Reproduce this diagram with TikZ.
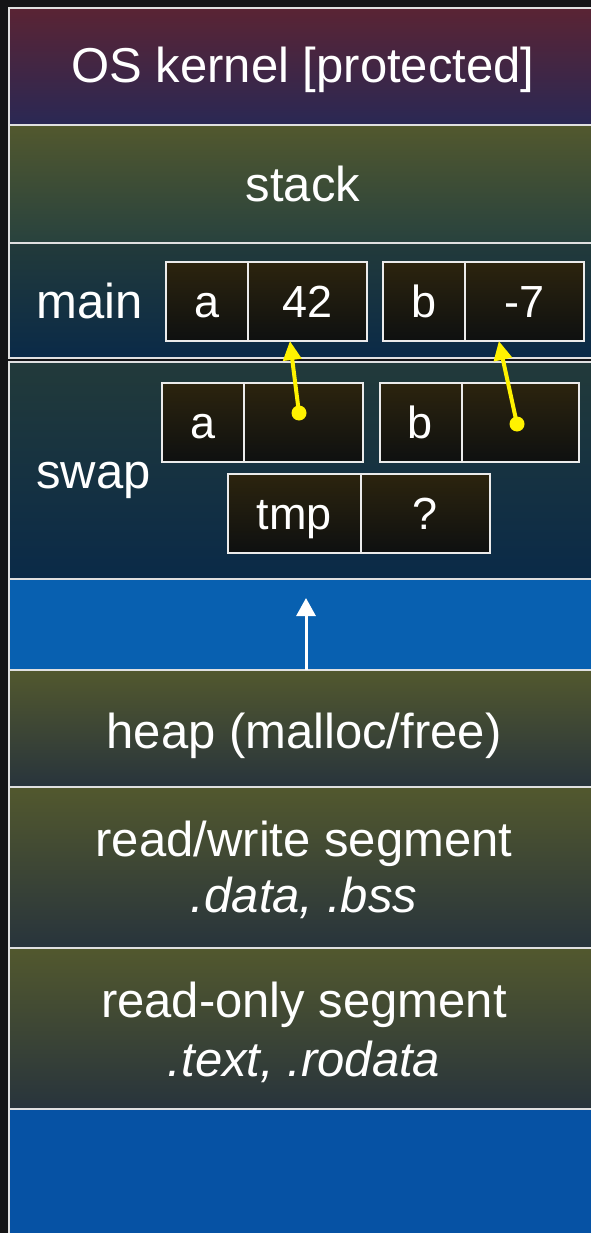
\documentclass[tikz,border=0pt]{standalone}
\usepackage{fontspec}
\setmainfont{Liberation Sans}
\usetikzlibrary{positioning,arrows.meta}

\definecolor{bgdark}{RGB}{20,20,22}
\definecolor{kerneltop}{RGB}{90,36,52}
\definecolor{kernelbot}{RGB}{42,40,84}
\definecolor{olivetop}{RGB}{82,88,46}
\definecolor{stackbot}{RGB}{40,66,62}
\definecolor{frametop}{RGB}{34,58,58}
\definecolor{framebot}{RGB}{10,42,72}
\definecolor{segbot}{RGB}{40,52,60}
\definecolor{freeblue}{RGB}{8,96,176}
\definecolor{lowblue}{RGB}{6,82,164}
\definecolor{celltop}{RGB}{44,36,14}
\definecolor{cellbot}{RGB}{14,16,16}

\tikzset{
  band/.style={draw=white!88!black, line width=2pt},
  bandtext/.style={text=white, inner sep=0pt, font=\fontsize{49pt}{57pt}\selectfont},
  cell/.style={draw=white!92!black, line width=2pt, top color=celltop, bottom color=cellbot,
    text=white, font=\fontsize{45pt}{52pt}\selectfont, inner sep=0pt, outer sep=0pt,
    minimum height=79pt, text height=32pt, text depth=0pt},
  namecell/.style={cell, minimum width=82pt},
  valcell/.style={cell, minimum width=119pt},
  ptr/.style={yellow, line width=4pt, -{Triangle[width=18pt,length=19pt]}},
  ptrdot/.style={circle, fill=yellow, minimum size=15pt, inner sep=0pt},
  growarrow/.style={white, line width=3pt, -{Triangle[width=19pt,length=18pt]}}
}

\begin{document}
\begin{tikzpicture}[x=1pt,y=-1pt]
  \useasboundingbox (0,0) rectangle (591,1233);
  \fill[bgdark] (0,0) rectangle (591,1233);

  % address space, top to bottom
  \draw[band, top color=kerneltop, bottom color=kernelbot] (9,8) rectangle (640,125);
  \draw[band, top color=olivetop, bottom color=stackbot] (9,125) rectangle (640,243);
  \draw[band, top color=frametop, bottom color=framebot] (9,243) rectangle (640,358);
  \draw[band, top color=frametop, bottom color=framebot] (9,362) rectangle (640,579);
  \draw[band, fill=freeblue] (9,579) rectangle (640,670);
  \draw[band, top color=olivetop, bottom color=segbot] (9,670) rectangle (640,787);
  \draw[band, top color=olivetop, bottom color=segbot] (9,787) rectangle (640,948);
  \draw[band, top color=olivetop, bottom color=segbot] (9,948) rectangle (640,1109);
  \draw[band, fill=lowblue] (9,1109) rectangle (640,1260);

  \node[bandtext, anchor=base] (kernel) at (303,83) {OS kernel [protected]};
  \node[bandtext, anchor=base] (stack) at (303,202) {stack};
  \node[bandtext, anchor=base] (heap) at (304,748) {heap (malloc/free)};
  \node[bandtext, anchor=base] (rw) at (304,856) {read/write segment};
  \node[bandtext, anchor=base] (rwsec) at (304,912) {\itshape .data, .bss};
  \node[bandtext, anchor=base] (ro) at (304,1017) {read-only segment};
  \node[bandtext, anchor=base] (rosec) at (304,1076) {\itshape .text, .rodata};

  % frames
  \node[bandtext, anchor=base west] (mainlbl) at (36,318) {main};
  \node[bandtext, anchor=base west] (swaplbl) at (36,488) {swap};

  \node[namecell] (man) at (207,301.5) {a};
  \node[valcell, right=0pt of man] (mav) {42};
  \node[namecell] (mbn) at (424,301.5) {b};
  \node[valcell, right=0pt of mbn] (mbv) {-7};

  \node[namecell] (san) at (203,422.5) {a};
  \node[valcell, right=0pt of san] (sav) {};
  \node[namecell] (sbn) at (420.5,422.5) {b};
  \node[valcell, minimum width=117pt, right=0pt of sbn] (sbv) {};

  \node[namecell, minimum width=133pt] (tmpn) at (294.5,513) {tmp};
  \node[valcell, minimum width=129pt, right=0pt of tmpn] (tmpv) {?};

  % pointers
  \node[ptrdot] (pa) at (299,413) {};
  \node[ptrdot] (pb) at (517,424) {};
  \draw[ptr] (pa.center) -- (mav.-114);
  \draw[ptr] (pb.center) -- (mbv.-123);

  % stack grows down
  \coordinate (growfrom) at (306,670);
  \coordinate (growto) at (306,598);
  \draw[growarrow] (growfrom) -- (growto);
\end{tikzpicture}
\end{document}
